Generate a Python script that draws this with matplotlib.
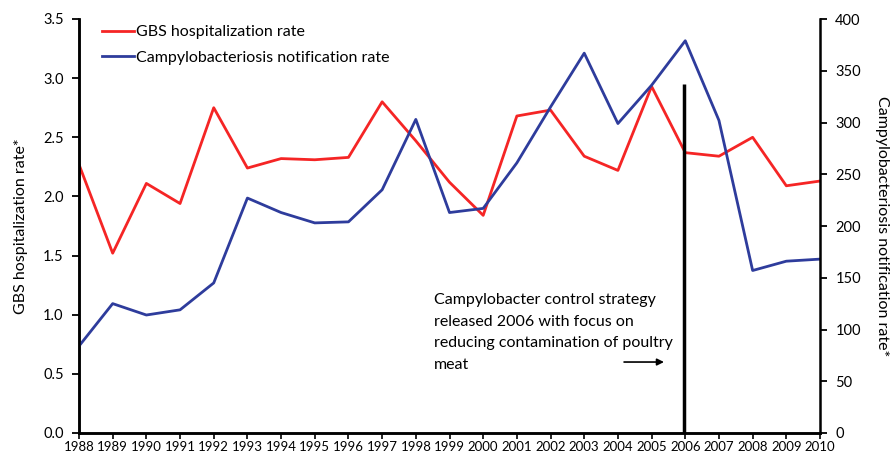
import matplotlib.pyplot as plt

plt.rcParams['font.family'] = ['Lato', 'DejaVu Sans']

years = list(range(1988, 2011))
gbs_rate = [2.27, 1.52, 2.11, 1.94, 2.75, 2.24, 2.32, 2.31, 2.33, 2.80, 2.47, 2.12,
            1.84, 2.68, 2.73, 2.34, 2.22, 2.93, 2.37, 2.34, 2.50, 2.09, 2.13]
campy_rate = [84, 125, 114, 119, 145, 227, 213, 203, 204, 235, 303, 213,
              217, 261, 315, 367, 299, 336, 379, 302, 157, 166, 168]
strategy_year = 2005.95
strategy_top = 337
note = ("Campylobacter control strategy\nreleased 2006 with focus on\n"
        "reducing contamination of poultry\nmeat")

red = '#f52525'
blue = '#2e3c9c'

fig = plt.figure(figsize=(8.93, 4.57), dpi=100)
ax1 = fig.add_axes([79 / 893, 1 - 433 / 457, (820 - 79) / 893, (433 - 19) / 457])
ax2 = ax1.twinx()

l1, = ax1.plot(years, gbs_rate, color=red, lw=2.0, label='GBS hospitalization rate')
l2, = ax2.plot(years, campy_rate, color=blue, lw=2.0, label='Campylobacteriosis notification rate')
ax2.vlines(strategy_year, 0, strategy_top, color='black', lw=2.5, zorder=5)

ax1.set_xlim(1988, 2010)
ax1.set_ylim(0, 3.5)
ax2.set_ylim(0, 400)
ax1.set_xticks(years)
ax1.set_xticklabels([str(y) for y in years], fontsize=9.5)
ax1.set_yticks([0, 0.5, 1.0, 1.5, 2.0, 2.5, 3.0, 3.5])
ax1.set_yticklabels(['0.0', '0.5', '1.0', '1.5', '2.0', '2.5', '3.0', '3.5'], fontsize=10.5)
ax2.set_yticks(range(0, 401, 50))
ax2.tick_params(axis='y', labelsize=10.5, width=1.3, length=5, pad=6)
ax1.tick_params(axis='y', width=1.3, length=5, pad=6)
ax1.tick_params(axis='x', width=1.2, length=4, pad=2)

for ax in (ax1, ax2):
    ax.spines['top'].set_visible(False)
    for s in ('left', 'right', 'bottom'):
        ax.spines[s].set_linewidth(1.8)
ax1.spines['right'].set_visible(False)

ax1.set_ylabel('GBS hospitalization rate*', fontsize=11.5, labelpad=11)
ax2.set_ylabel('Campylobacteriosis notification rate*', fontsize=11.5,
               rotation=270, labelpad=20)

ax2.legend(handles=[l1, l2], loc='upper left', bbox_to_anchor=(0.012, 1.02),
           frameon=False, fontsize=11.5, handlelength=2.0, handletextpad=0.1,
           labelspacing=0.7)

ax1.text(1998.55, 1.18, note, fontsize=11.5, va='top', ha='left', linespacing=1.68)
ax1.annotate('', xy=(2005.45, 0.6), xytext=(2004.1, 0.6),
             arrowprops=dict(arrowstyle='-|>', color='black', lw=1.2))

fig.savefig('out.png', dpi=100)
